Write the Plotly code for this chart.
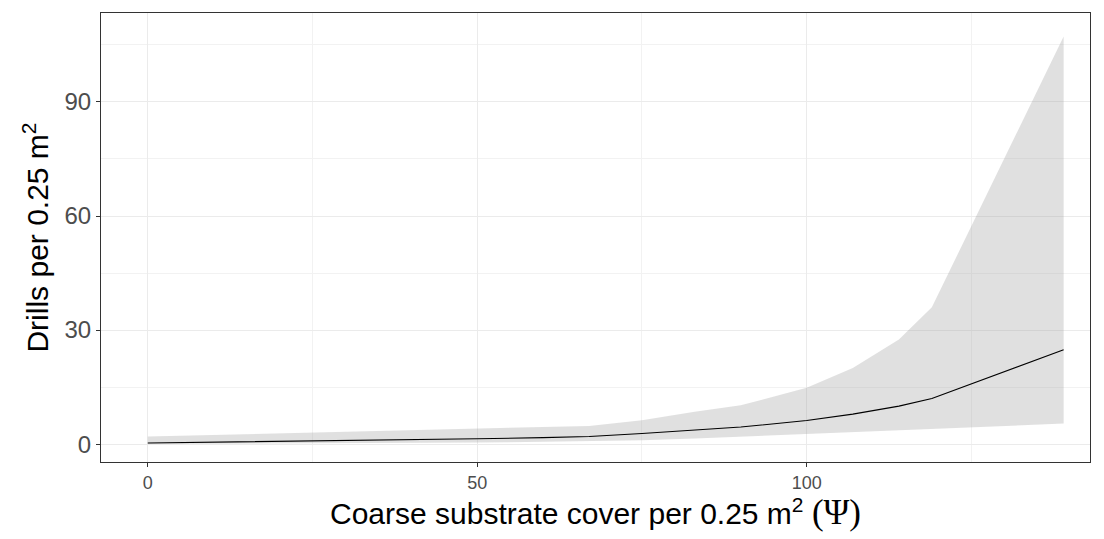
import plotly.graph_objects as go

# Data
cover = [0, 10, 20, 30, 40, 50, 60, 67, 75, 83, 90, 100, 107, 114, 119, 139]
drills_fit = [0.3, 0.5, 0.7, 0.9, 1.1, 1.4, 1.7, 2.0, 2.8, 3.6, 4.5, 6.2, 7.9, 10.0, 12.0, 24.8]
drills_lower = [0.05, 0.1, 0.2, 0.25, 0.3, 0.4, 0.6, 0.75, 1.0, 1.5, 2.0, 2.8, 3.3, 3.8, 4.1, 5.4]
drills_upper = [2.0, 2.4, 2.8, 3.2, 3.6, 4.0, 4.4, 4.8, 6.3, 8.5, 10.2, 14.8, 20.0, 27.5, 36.0, 107.2]

x_ticks = [0, 50, 100]
y_ticks = [0, 30, 60, 90]

FONT = "Liberation Sans, Arial, sans-serif"

fig = go.Figure()
fig.add_trace(go.Scatter(x=cover, y=drills_lower, mode="lines",
                         line=dict(width=0), hoverinfo="skip", showlegend=False))
fig.add_trace(go.Scatter(x=cover, y=drills_upper, mode="lines", fill="tonexty",
                         fillcolor="rgba(153,153,153,0.3)", line=dict(width=0),
                         hoverinfo="skip", showlegend=False))
fig.add_trace(go.Scatter(x=cover, y=drills_fit, mode="lines",
                         line=dict(color="black", width=1.1), showlegend=False))

axis_common = dict(
    showline=True, mirror=True, linecolor="#333333", linewidth=1,
    ticks="outside", ticklen=4, tickcolor="#333333", tickwidth=1,
    showgrid=True, gridcolor="#ebebeb", gridwidth=1,
    zeroline=False,
)

fig.update_layout(
    width=1104, height=539,
    margin=dict(l=101, r=14, t=13, b=77),
    paper_bgcolor="white", plot_bgcolor="white",
    font=dict(family=FONT),
    xaxis=dict(
        **axis_common,
        range=[-7.1, 143.0],
        tickvals=x_ticks,
        tickfont=dict(size=18, color="#4d4d4d"),
        minor=dict(showgrid=True, gridcolor="#f2f2f2", gridwidth=0.6, tickvals=[25, 75, 125], ticks=""),
        title=dict(text="Coarse substrate cover per 0.25 m<sup>2</sup> <span style='font-family:Liberation Serif, Times New Roman, serif;font-size:35px'>(Ψ)</span>",
                   font=dict(size=30, color="black"), standoff=11),
    ),
    yaxis=dict(
        **axis_common,
        range=[-4.7, 113.4],
        tickvals=y_ticks,
        tickfont=dict(size=24, color="#4d4d4d"),
        minor=dict(showgrid=True, gridcolor="#f2f2f2", gridwidth=0.6, tickvals=[15, 45, 75, 105], ticks=""),
        title=dict(text="Drills per 0.25 m<sup>2</sup>", font=dict(size=30, color="black"), standoff=6),
    ),
)

fig.write_html("out.html")
